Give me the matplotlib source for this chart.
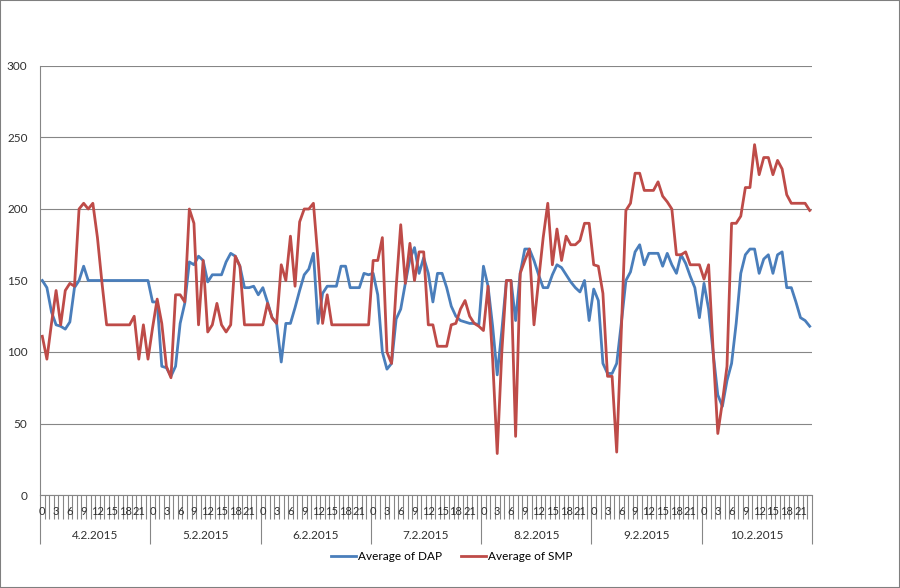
import matplotlib
matplotlib.use("Agg")
import matplotlib.pyplot as plt
from matplotlib.patches import Rectangle

plt.rcParams['font.family'] = ['Lato', 'DejaVu Sans']

days = ['4.2.2015', '5.2.2015', '6.2.2015', '7.2.2015', '8.2.2015', '9.2.2015', '10.2.2015']
hour_labels = ['0', '3', '6', '9', '12', '15', '18', '21']

# hourly averages, one list per day (hours 0..23)
dap_by_day = [
    [150, 145, 128, 119, 118, 116, 121, 145, 150, 160, 150, 150, 150, 150, 150, 150, 150, 150, 150, 150, 150, 150, 150, 150],
    [135, 135, 90, 89, 83, 90, 120, 134, 163, 161, 167, 164, 149, 154, 154, 154, 163, 169, 167, 160, 145, 145, 146, 140],
    [145, 135, 124, 120, 93, 120, 120, 131, 143, 154, 158, 169, 120, 141, 146, 146, 146, 160, 160, 145, 145, 145, 155, 154],
    [155, 140, 100, 88, 92, 123, 130, 148, 165, 173, 155, 166, 155, 135, 155, 155, 145, 132, 125, 122, 121, 120, 120, 119],
    [160, 146, 118, 84, 115, 150, 150, 122, 155, 172, 172, 164, 154, 145, 145, 154, 161, 159, 154, 149, 145, 142, 150, 122],
    [144, 136, 92, 85, 85, 92, 120, 150, 156, 170, 175, 161, 169, 169, 169, 160, 169, 161, 155, 168, 162, 153, 145, 124],
    [148, 130, 99, 70, 62, 80, 92, 120, 155, 168, 172, 172, 155, 165, 168, 155, 168, 170, 145, 145, 135, 124, 122, 118],
]
smp_by_day = [
    [111, 95, 120, 143, 119, 143, 148, 146, 200, 204, 200, 204, 180, 148, 119, 119, 119, 119, 119, 119, 125, 95, 119, 95],
    [117, 137, 120, 90, 82, 140, 140, 135, 200, 190, 119, 164, 114, 119, 134, 119, 114, 119, 167, 160, 119, 119, 119, 119],
    [119, 134, 124, 120, 161, 150, 181, 146, 191, 200, 200, 204, 165, 120, 140, 119, 119, 119, 119, 119, 119, 119, 119, 119],
    [164, 164, 180, 100, 92, 145, 189, 148, 176, 150, 170, 170, 119, 119, 104, 104, 104, 119, 120, 130, 136, 125, 120, 118],
    [115, 146, 95, 29, 100, 150, 150, 41, 155, 164, 172, 119, 150, 180, 204, 161, 186, 164, 181, 175, 175, 178, 190, 190],
    [161, 160, 141, 83, 83, 30, 115, 199, 204, 225, 225, 213, 213, 213, 219, 209, 205, 200, 168, 168, 170, 161, 161, 161],
    [151, 161, 100, 43, 65, 90, 190, 190, 195, 215, 215, 245, 224, 236, 236, 224, 234, 228, 210, 204, 204, 204, 204, 199],
]

dap = [v for d in dap_by_day for v in d]
smp = [v for d in smp_by_day for v in d]
n = len(dap)
x = [i + 0.5 for i in range(n)]

fig = plt.figure(figsize=(9, 5.88), dpi=100)
ax = fig.add_axes([40 / 900, 1 - 495 / 588, 772 / 900, 429 / 588])

grid_c = '#868686'
ax.plot(x, dap, color='#4A7EBB', lw=2.0, label='Average of DAP', solid_joinstyle='round')
ax.plot(x, smp, color='#BE4B48', lw=2.0, label='Average of SMP', solid_joinstyle='round')

ax.set_xlim(0, n)
ax.set_ylim(0, 300)
ax.set_yticks(range(0, 301, 50))
ax.yaxis.grid(True, color=grid_c, lw=0.8)
ax.set_axisbelow(True)
ax.tick_params(axis='y', length=0, pad=9, labelsize=8.5, labelcolor='#303030')

for s in ['top', 'right']:
    ax.spines[s].set_visible(False)
ax.spines['left'].set_color(grid_c)
ax.spines['bottom'].set_color(grid_c)

# hour boundaries (minor) and day boundaries (major)
ax.set_xticks(range(0, n + 1, 24))
ax.set_xticks(range(0, n + 1), minor=True)
ax.set_xticklabels([])
ax.tick_params(axis='x', which='major', length=35, color=grid_c, width=0.8)
ax.tick_params(axis='x', which='minor', length=17, color=grid_c, width=0.8)

tr = ax.get_xaxis_transform()
for d, day in enumerate(days):
    for k, lab in enumerate(hour_labels):
        ax.text(d * 24 + k * 3 + 0.5, -0.038, lab, transform=tr, ha='center', va='center',
                fontsize=8, color='#303030')
    ax.text(d * 24 + 12, -0.095, day, transform=tr, ha='center', va='center',
            fontsize=8.5, color='#303030')

fig.legend(loc='center', bbox_to_anchor=(0.502, 1 - 557 / 588), ncol=2, frameon=False,
           fontsize=8.5, handlelength=2.1, columnspacing=1.6, handletextpad=0.2)

fig.patches.append(Rectangle((0, 0), 1, 1, transform=fig.transFigure, fill=False,
                             edgecolor='#7f7f7f', lw=1.5))

fig.savefig('out.png', dpi=100)
